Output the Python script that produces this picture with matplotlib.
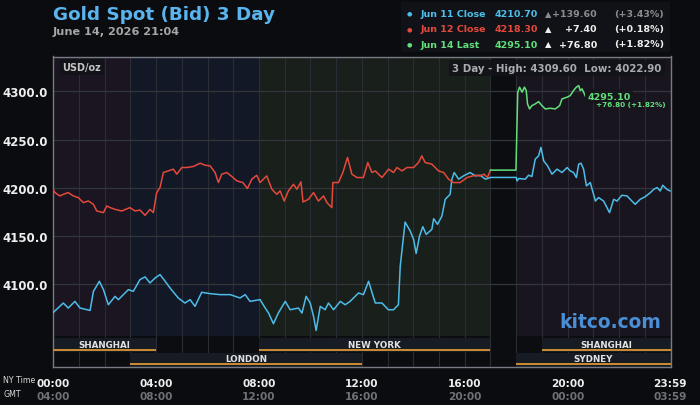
import numpy as np
import matplotlib.pyplot as plt
from matplotlib.patches import Rectangle
import matplotlib.transforms as mtransforms

# hours since 00:00 NY time and bid price
blue_t = [0, 0.39, 0.58, 0.84, 1.04, 1.43, 1.56, 1.79, 1.95, 2.14,
          2.4, 2.53, 2.92, 3.11, 3.37, 3.57, 3.76, 3.96, 4.15, 4.35,
          4.54, 4.86, 5.12, 5.32, 5.51, 5.77, 6.1, 6.49, 6.88, 7.26,
          7.46, 7.65, 8.04, 8.24, 8.37, 8.56, 8.75, 9.02, 9.21, 9.53,
          9.67, 9.83, 9.99, 10.12, 10.22, 10.38, 10.57, 10.7, 10.9, 11.16,
          11.35, 11.54, 11.87, 12.06, 12.26, 12.52, 12.78, 13.03, 13.23, 13.42,
          13.49, 13.68, 13.88, 14.01, 14.11, 14.24, 14.37, 14.5, 14.72, 14.79,
          14.94, 15.11, 15.24, 15.43, 15.5, 15.59, 15.76, 15.95, 16.21, 16.41,
          16.6, 16.8, 17.0, 18.0, 18.03, 18.1, 18.35, 18.48, 18.61, 18.74,
          18.87, 18.96, 19.07, 19.22, 19.39, 19.59, 19.78, 19.98, 20.1, 20.23,
          20.34, 20.43, 20.52, 20.62, 20.73, 20.88, 21.08, 21.2, 21.4, 21.53,
          21.63, 21.79, 21.92, 22.11, 22.31, 22.5, 22.63, 22.82, 23.02, 23.22,
          23.35, 23.48, 23.6, 23.7, 23.86, 23.98]
blue_p = [4070.6, 4080.4, 4075.2, 4082.1, 4075.2, 4072.7, 4092.5, 4102.9, 4094.3, 4078.6,
          4087.3, 4083.9, 4094.3, 4092.5, 4104.7, 4107.5, 4101.2, 4106.4, 4109.9, 4102.9,
          4096.0, 4085.6, 4080.4, 4083.9, 4076.9, 4091.5, 4090.1, 4089.1, 4089.1, 4085.6,
          4089.1, 4082.1, 4083.9, 4075.2, 4070.0, 4058.9, 4070.0, 4082.1, 4073.4, 4075.2,
          4070.0, 4087.3, 4080.4, 4066.5, 4051.9, 4076.9, 4073.4, 4080.4, 4073.4, 4082.1,
          4078.6, 4082.1, 4090.8, 4089.1, 4102.9, 4080.4, 4080.4, 4073.4, 4073.4, 4078.6,
          4118.5, 4164.4, 4155.0, 4146.4, 4131.8, 4149.8, 4159.6, 4151.6, 4156.8, 4167.9,
          4162.0, 4170.6, 4188.0, 4193.2, 4208.9, 4215.8, 4208.9, 4212.3, 4215.8, 4212.3,
          4213.0, 4208.9, 4210.7, 4210.7, 4207.1, 4209.6, 4208.9, 4213.0, 4211.7, 4229.7,
          4233.1, 4241.9, 4227.9, 4222.7, 4214.1, 4219.3, 4215.8, 4221.0, 4217.5, 4215.8,
          4210.6, 4224.5, 4225.5, 4219.3, 4201.9, 4205.4, 4186.2, 4189.8, 4186.2, 4179.4,
          4174.2, 4188.0, 4186.2, 4192.2, 4191.5, 4186.2, 4182.8, 4188.0, 4190.8, 4195.0,
          4198.4, 4200.2, 4196.7, 4202.6, 4198.4, 4196.7]

red_t = [0, 0.06, 0.26, 0.39, 0.58, 0.78, 0.97, 1.17, 1.36, 1.56,
         1.69, 1.95, 2.08, 2.21, 2.4, 2.66, 2.98, 3.18, 3.37, 3.57,
         3.76, 3.89, 4.02, 4.15, 4.28, 4.47, 4.67, 4.8, 5.0, 5.19,
         5.45, 5.71, 5.9, 6.1, 6.29, 6.42, 6.55, 6.75, 6.94, 7.14,
         7.37, 7.55, 7.72, 7.91, 8.04, 8.3, 8.5, 8.69, 8.82, 8.98,
         9.14, 9.34, 9.47, 9.63, 9.71, 9.92, 10.12, 10.31, 10.51, 10.64,
         10.83, 10.87, 11.09, 11.26, 11.44, 11.61, 11.81, 12.06, 12.23, 12.39,
         12.52, 12.78, 13.04, 13.23, 13.36, 13.56, 13.75, 14.01, 14.2, 14.33,
         14.46, 14.72, 14.98, 15.18, 15.37, 15.56, 15.82, 16.09, 16.41, 16.6,
         16.75, 16.88, 17.0]
red_p = [4198.4, 4195.0, 4191.5, 4193.2, 4195.0, 4191.5, 4189.8, 4184.6, 4186.3, 4182.8,
         4175.9, 4174.2, 4181.1, 4179.4, 4177.6, 4175.9, 4179.4, 4175.9, 4176.9, 4171.4,
         4177.6, 4174.2, 4195.0, 4200.2, 4215.8, 4217.5, 4219.3, 4214.1, 4221.0, 4221.0,
         4222.1, 4225.5, 4223.4, 4222.7, 4215.8, 4205.4, 4214.1, 4215.8, 4211.7, 4207.1,
         4205.4, 4199.2, 4208.9, 4213.0, 4205.4, 4212.3, 4198.4, 4193.2, 4196.7, 4186.2,
         4196.7, 4203.6, 4198.4, 4206.1, 4185.2, 4188.0, 4195.0, 4186.2, 4191.5, 4184.6,
         4179.4, 4205.4, 4205.4, 4215.8, 4231.5, 4214.1, 4210.6, 4210.6, 4226.2, 4215.8,
         4217.5, 4210.6, 4219.3, 4215.8, 4221.0, 4217.5, 4221.0, 4221.0, 4226.2, 4233.1,
         4226.2, 4224.5, 4217.5, 4215.8, 4208.9, 4205.4, 4205.4, 4210.6, 4213.0, 4212.3,
         4214.1, 4210.6, 4218.3]

green_t = [17.0, 17.99, 18.06, 18.13, 18.23, 18.32, 18.39, 18.44, 18.52, 18.61,
           18.74, 18.87, 19.0, 19.13, 19.33, 19.52, 19.69, 19.78, 19.98, 20.1,
           20.23, 20.34, 20.43, 20.49, 20.56, 20.69]
green_p = [4218.3, 4218.3, 4299.2, 4304.4, 4299.2, 4304.4, 4300.9, 4287.0, 4281.8, 4285.2,
           4287.0, 4289.4, 4285.2, 4281.8, 4282.5, 4281.8, 4285.2, 4292.2, 4294.0, 4295.6,
           4300.9, 4304.4, 4306.0, 4300.9, 4302.6, 4295.1]

legend_names = ['Jun 11 Close', 'Jun 12 Close', 'Jun 14 Last']
legend_values = ['4210.70', '4218.30', '4295.10']
legend_changes = ['+139.60', '+7.40', '+76.80']
legend_pcts = ['(+3.43%)', '(+0.18%)', '(+1.82%)']

# market session bands (start hour, end hour)
bands = [(0, 3, '#1a1520'), (3, 8, '#121826'), (8, 17, '#191f1a'),
         (17, 18, '#0c0d10'), (18, 24, '#19151f')]
sessions_top = [('SHANGHAI', 0, 4), ('NEW YORK', 8, 17), ('SHANGHAI', 19, 24)]
sessions_bot = [('LONDON', 3, 12), ('SYDNEY', 18, 24)]

ny_ticks = [0, 4, 8, 12, 16, 20, 23.983]
ny_labels = ['00:00', '04:00', '08:00', '12:00', '16:00', '20:00', '23:59']
gmt_labels = ['04:00', '08:00', '12:00', '16:00', '20:00', '00:00', '03:59']

BLUE, RED, GREEN = '#4cbde9', '#e5493b', '#62df7b'
BG = '#0b0c0f'

W, H = 700, 406
fig = plt.figure(figsize=(7, 4.06), dpi=100, facecolor=BG)
def fx(x): return x / W
def fy(y): return 1 - y / H

ax = fig.add_axes([fx(53.3), fy(368), (670.5 - 53.3) / W, (368 - 57.5) / H])
ax.set_facecolor('#0c0d11')
ax.set_xlim(0, 24)
ax.set_ylim(4014, 4336.2)

price_bottom = 0.0998
for x0, x1, c in bands:
    ax.axvspan(x0, x1, ymin=price_bottom, ymax=1, color=c, lw=0, zorder=0)

for h in range(1, 24):
    ax.axvline(h, color='#2b2d34', lw=0.8, zorder=1)
ax.set_yticks([4100, 4150, 4200, 4250, 4300])
ax.set_yticklabels([f'{v:.1f}' for v in [4100, 4150, 4200, 4250, 4300]])
for v in [4100, 4150, 4200, 4250, 4300]:
    ax.axhline(v, color='#33353c', lw=0.9, zorder=1)

trans = mtransforms.blended_transform_factory(ax.transData, ax.transAxes)
for rows, y0, y1, ly0, ly1, ty in [(sessions_top, 0.049, 0.0934, 0.052, 0.058, 0.072),
                                   (sessions_bot, 0.0, 0.045, 0.006, 0.0125, 0.027)]:
    for name, x0, x1 in rows:
        ax.add_patch(Rectangle((x0, y0), x1 - x0, y1 - y0, transform=trans,
                               facecolor='#161b24', lw=0, zorder=2))
        ax.add_patch(Rectangle((x0, ly0), x1 - x0, ly1 - ly0, transform=trans,
                               facecolor='#c88a30', lw=0, zorder=3))
        ax.text((x0 + x1) / 2, ty, name, transform=trans, ha='center', va='center',
                fontsize=6.3, fontweight='bold', color='#e2e2e2', zorder=4)

ax.plot(blue_t, blue_p, color=BLUE, lw=1.1, zorder=5)
ax.plot(red_t, red_p, color=RED, lw=1.1, zorder=5)
ax.plot(green_t, green_p, color=GREEN, lw=1.1, zorder=6)

ax.set_xticks(ny_ticks)
ax.set_xticklabels(ny_labels)
ax.tick_params(axis='both', length=0, colors='#eeeeee')
ax.tick_params(axis='x', pad=8, labelsize=7.6)
ax.tick_params(axis='y', pad=4, labelsize=8.5)
for lab in ax.get_xticklabels() + ax.get_yticklabels():
    lab.set_fontweight('bold')
for sp in ax.spines.values():
    sp.set_color('#777b84')
    sp.set_linewidth(1)

for t, g in zip(ny_ticks, gmt_labels):
    ax.text(t, fy(396.7), g, transform=mtransforms.blended_transform_factory(ax.transData, fig.transFigure),
            ha='center', va='center', fontsize=7.6, fontweight='bold', color='#6f7177')
fig.text(fx(3), fy(381), 'NY Time', fontsize=5.7, color='#d8d8d8', va='center')
fig.text(fx(3), fy(395), 'GMT', fontsize=5.7, color='#d8d8d8', va='center')

# in-plot labels
box = dict(boxstyle='square,pad=0.3', facecolor='#121318', edgecolor='none', alpha=0.9)
ax.text(0.015, 0.966, 'USD/oz', transform=ax.transAxes, fontsize=7, fontweight='bold',
        color='#c4c4c4', va='center', bbox=box, zorder=8)
ax.text(0.986, 0.963, '3 Day - High: 4309.60  Low: 4022.90', transform=ax.transAxes,
        fontsize=7.4, fontweight='bold', color='#a9abb0', ha='right', va='center',
        bbox=box, zorder=8)
ax.text(0.985, 0.148, 'kitco.com', transform=ax.transAxes, fontsize=13.4,
        fontweight='bold', color='#4a8fd6', ha='right', va='center', zorder=4)

ax.annotate(legend_values[2], (green_t[-1], green_p[-1]), xytext=(1.5, 0),
            textcoords='offset points', fontsize=6.8, fontweight='bold', color=GREEN,
            va='center', ha='left', zorder=9,
            bbox=dict(boxstyle='square,pad=0.25', facecolor='#15151b', edgecolor='none', alpha=0.85))
ax.annotate(f'{legend_changes[2]} {legend_pcts[2]}', (green_t[-1], green_p[-1]),
            xytext=(58, -5.5), textcoords='offset points', fontsize=5.2,
            fontweight='bold', color=GREEN, va='center', ha='right', zorder=9)

# title block
fig.text(fx(53), fy(15), 'Gold Spot (Bid) 3 Day', fontsize=13.2, fontweight='bold',
         color='#5ab4ee', va='center')
fig.text(fx(53), fy(32), 'June 14, 2026 21:04', fontsize=8.1, fontweight='bold',
         color='#a6a6a6', va='center')

# legend box top right
fig.patches.append(Rectangle((fx(401), fy(53)), (670 - 401) / W, 50 / H,
                             transform=fig.transFigure, facecolor='#101217',
                             edgecolor='none', zorder=0))
row_y = [14.3, 29.7, 45]
colors = [BLUE, RED, GREEN]
chg_colors = ['#8a8c90', '#eeeeee', '#f2f2f2']
for i in range(3):
    y = fy(row_y[i])
    fig.text(fx(409), y, '\u25CF', fontsize=4.5, color=colors[i], ha='center', va='center')
    fig.text(fx(420.5), y, legend_names[i], fontsize=6.8, fontweight='bold',
             color=colors[i], va='center')
    fig.text(fx(495), y, legend_values[i], fontsize=6.8, fontweight='bold',
             color=colors[i], va='center')
    fig.text(fx(548.7), y, '\u25B2', fontsize=6, color=chg_colors[i],
             ha='center', va='center')
    fig.text(fx(597), y, legend_changes[i], fontsize=6.8, fontweight='bold',
             color=chg_colors[i], ha='right', va='center')
    fig.text(fx(664), y, legend_pcts[i], fontsize=6.8, fontweight='bold',
             color=chg_colors[i], ha='right', va='center')

fig.savefig('out.png', dpi=100, facecolor=BG)
